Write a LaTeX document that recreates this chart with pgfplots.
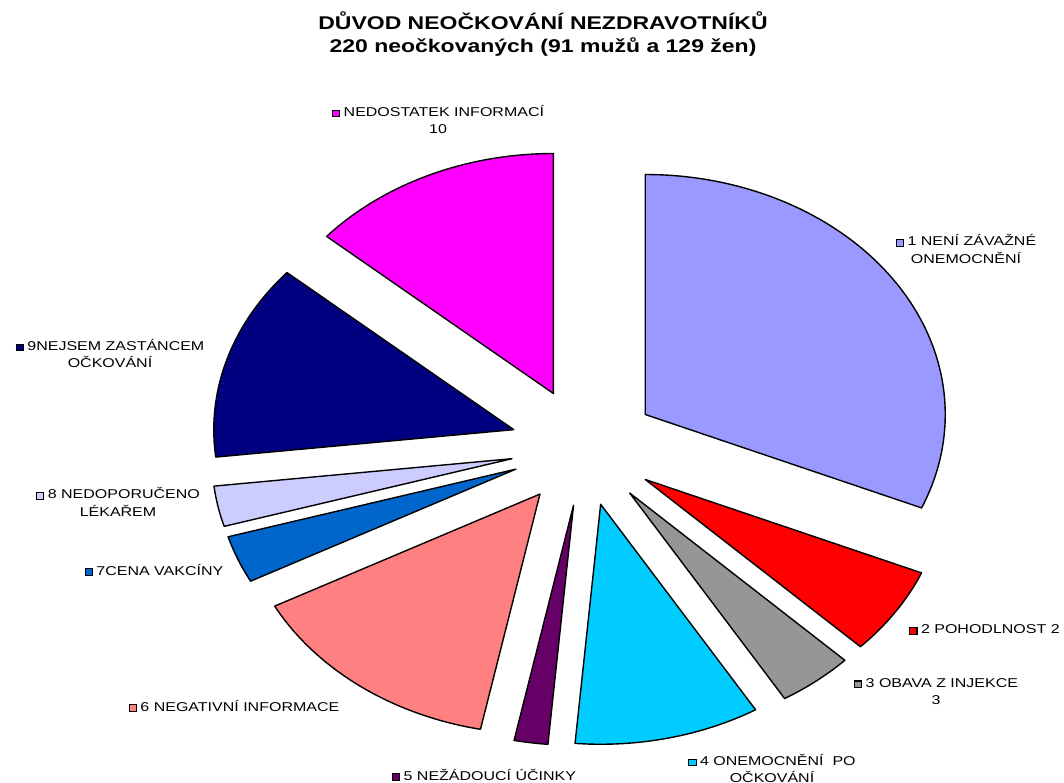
\documentclass[border=0pt]{standalone}
\usepackage{pgfplots}
\pgfplotsset{compat=1.18}
\usepackage{pgfplotstable}
\usepackage{fontspec}
\setmainfont{Liberation Sans}[FakeStretch=1.25]
\definecolor{c1}{HTML}{9999FF}
\definecolor{c2}{HTML}{FF0000}
\definecolor{c3}{HTML}{969696}
\definecolor{c4}{HTML}{00CCFF}
\definecolor{c5}{HTML}{660066}
\definecolor{c6}{HTML}{FF8080}
\definecolor{c7}{HTML}{0066CC}
\definecolor{c8}{HTML}{CCCCFF}
\definecolor{c9}{HTML}{000080}
\definecolor{c10}{HTML}{FF00FF}
\newcommand\sq[1]{{\setlength\fboxsep{0pt}\setlength\fboxrule{0.8pt}\fcolorbox{black}{#1}{\rule{0pt}{4.2pt}\hspace{4.6pt}}}\hspace{2.6pt}}
\pgfplotstableread{
i v c
1 69 c1
2 13 c2
3 9 c3
4 22 c4
5 4 c5
6 31 c6
7 7 c7
8 6 c8
9 29 c9
10 30 c10
}\piedata
\begin{document}
\begin{tikzpicture}
\begin{axis}[hide axis, scale only axis, width=798pt, height=586.5pt,
  xmin=0, xmax=1064, ymin=0, ymax=782, clip=false]
\pgfplotsextra{%
  \gdef\startang{90}%
  \foreach \k in {0,...,9}{%
    \pgfplotstablegetelem{\k}{v}\of\piedata
    \pgfmathsetmacro\sweep{\pgfplotsretval/220*360}%
    \pgfmathsetmacro\endang{\startang-\sweep}%
    \pgfmathsetmacro\midang{\startang-\sweep/2}%
    \pgfmathsetmacro\ax{584+0.245*300*cos(\midang)}%
    \pgfmathsetmacro\ay{335+0.245*240*sin(\midang)}%
    \pgfplotstablegetelem{\k}{c}\of\piedata
    \edef\col{\pgfplotsretval}%
    \filldraw[fill=\col, draw=black, line width=1.05pt, line join=round]
      (axis cs:\ax,\ay) -- ++(\startang:225pt and 180pt)
      arc[start angle=\startang, end angle=\endang, x radius=225pt, y radius=180pt] -- cycle;
    \xdef\startang{\endang}%
  }%
}
% title
\node[font=\fontsize{13.8}{17}\selectfont\bfseries, align=center] at (axis cs:543,748)
  {DŮVOD NEOČKOVÁNÍ NEZDRAVOTNÍKŮ\\220 neočkovaných (91 mužů a 129 žen)};
% labels
\begin{scope}[every node/.style={font=\fontsize{9.6}{13.2}\selectfont, align=center, inner sep=0pt}]
\node at (axis cs:438,662.5) {\sq{c10}NEDOSTATEK INFORMACÍ\\10};
\node at (axis cs:966,533) {\sq{c1}1 NENÍ ZÁVAŽNÉ\\ONEMOCNĚNÍ};
\node at (axis cs:110,428.5) {\sq{c9}9NEJSEM ZASTÁNCEM\\OČKOVÁNÍ};
\node at (axis cs:118,280) {\sq{c8}8 NEDOPORUČENO\\LÉKAŘEM};
\node at (axis cs:154,212) {\sq{c7}7CENA VAKCÍNY};
\node[anchor=west] at (axis cs:909,152) {\sq{c2}2 POHODLNOST 2};
\node at (axis cs:936,90.5) {\sq{c3}3 OBAVA Z INJEKCE\\3};
\node at (axis cs:772,13.5) {\sq{c4}4 ONEMOCNĚNÍ\ \ PO\\OČKOVÁNÍ};
\node at (axis cs:484,7) {\sq{c5}5 NEŽÁDOUCÍ ÚČINKY};
\node at (axis cs:234,76) {\sq{c6}6 NEGATIVNÍ INFORMACE};
\end{scope}
\end{axis}
\pgfresetboundingbox
\path (0,0) rectangle (798pt,586.5pt);
\end{tikzpicture}
\end{document}
